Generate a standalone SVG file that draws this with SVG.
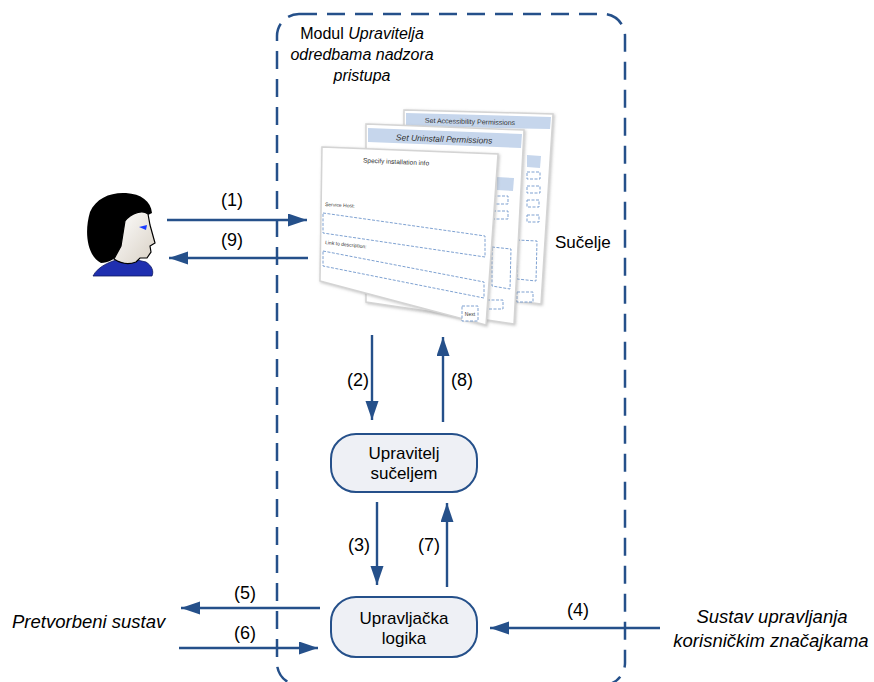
<svg xmlns="http://www.w3.org/2000/svg" width="874" height="682" viewBox="0 0 874 682">
  <defs>
    <style>
      .lbl { font-family: "Liberation Sans", Arial, sans-serif; font-size: 18px; fill: #000; text-anchor: middle; }
      .caption { font-family: "Liberation Sans", Arial, sans-serif; font-size: 17px; fill: #000; }
      .node-text { font-family: "Liberation Sans", Arial, sans-serif; font-size: 17px; fill: #000; text-anchor: middle; }
      .ext { font-family: "Liberation Sans", Arial, sans-serif; font-size: 18.5px; font-style: italic; fill: #000; }
      .title { font-family: "Liberation Sans", Arial, sans-serif; font-size: 16px; fill: #000; text-anchor: middle; }
      .node { fill: #eef0f5; stroke: #25508a; stroke-width: 2; }
      .conn { stroke: #25508a; stroke-width: 2.4; fill: none; marker-end: url(#head); }
      .win { fill: #ffffff; stroke: #d4d4d4; stroke-width: 1.5; filter: url(#glow); }
      .bar { fill: #c6d6ec; }
      .field { fill: #ffffff; stroke: #6f96cc; stroke-width: 0.9; stroke-dasharray: 3 1.5; }
      .tiny { font-family: "Liberation Sans", Arial, sans-serif; fill: #333; }
    </style>
    <marker id="head" markerUnits="userSpaceOnUse" markerWidth="20" markerHeight="14" refX="19" refY="6.5" orient="auto">
      <path d="M0,0 L19,6.5 L0,13 Z" fill="#25508a"/>
    </marker>
    <filter id="glow" x="-10%" y="-10%" width="120%" height="120%">
      <feDropShadow dx="1" dy="1" stdDeviation="1.6" flood-color="#9a9a9a" flood-opacity="0.6"/>
    </filter>
    <linearGradient id="skin" x1="0" y1="0" x2="1" y2="1">
      <stop offset="0" stop-color="#ffffff"/>
      <stop offset="1" stop-color="#d8d0c4"/>
    </linearGradient>
  </defs>

  <!-- module boundary -->
  <g id="module">
    <rect x="277" y="14" width="348" height="671" rx="22" fill="none" stroke="#25508a" stroke-width="2.5" stroke-dasharray="18 10"/>
    <text class="title" x="362" y="39">Modul <tspan font-style="italic">Upravitelja</tspan></text>
    <text class="title" x="362" y="60" font-style="italic">odredbama nadzora</text>
    <text class="title" x="362" y="81" font-style="italic">pristupa</text>
  </g>

  <!-- user -->
  <g id="user">
    <path d="M93,276 C98,266 113,259 128,258 L146,262 C152,266 154,271 152,276 Z" fill="#1f2fb0" stroke="#0d1660" stroke-width="0.8"/>
    <path d="M101,263 C87,256 84,232 90,212 C96,198 111,192 126,193 C141,194 151,201 152,213 L148,215 C140,211 130,214 125,223 L122,246 C120,256 111,263 101,263 Z" fill="#000"/>
    <path d="M125,221 C132,212 143,210 148,214 L150,225 L155,243 L150,246 L151,252 L147,258 L140,258 L136,262 C128,265 120,263 114,259 L121,246 Z" fill="url(#skin)" stroke="#000" stroke-width="1.2"/>
    <path d="M139,227 L147,225 L146,230 Z" fill="#1a3cff"/>
  </g>

  <!-- user interface screens -->
  <g id="screens">
    <!-- back window -->
    <polygon class="win" points="404,110 553,114 541,304 404,286"/>
    <polygon class="bar" points="406,113 551,117 550,129 406,126"/>
    <text class="tiny" x="470" y="124" font-size="7" text-anchor="middle" transform="rotate(1.5 470 124)">Set Accessibility Permissions</text>
    <polygon class="bar" points="527,155 541,156 540,168 527,167"/>
    <rect class="field" x="527" y="172" width="13" height="7"/>
    <rect class="field" x="527" y="186" width="13" height="7"/>
    <rect class="field" x="527" y="200" width="12" height="7"/>
    <rect class="field" x="527" y="215" width="12" height="7"/>
    <polygon class="field" points="517,240 537,241 536,281 517,279"/>
    <rect class="field" x="517" y="292" width="16" height="10"/>

    <!-- middle window -->
    <polygon class="win" points="366,124 524,130 514,324 366,302"/>
    <polygon class="bar" points="368,128 522,134 521,148 368,142"/>
    <text class="tiny" x="444" y="142" font-size="8.5" font-style="italic" text-anchor="middle" transform="rotate(2 444 142)">Set Uninstall Permissions</text>
    <polygon class="bar" points="497,177 514,178 513,191 497,190"/>
    <rect class="field" x="493" y="196" width="15" height="8"/>
    <rect class="field" x="493" y="211" width="15" height="8"/>
    <polygon class="field" points="492,247 511,249 510,289 492,286"/>
    <rect class="field" x="487" y="300" width="16" height="9"/>

    <!-- front window -->
    <polygon class="win" points="322,147 498,154 486,325 320,281"/>
    <text class="tiny" x="396" y="164" font-size="6.5" text-anchor="middle" transform="rotate(2.5 396 164)">Specify installation info</text>
    <text class="tiny" x="325" y="206" font-size="5" transform="rotate(3 325 206)">Service Host:</text>
    <polygon class="field" points="323,213 485,236 485,257 323,233"/>
    <text class="tiny" x="325" y="244" font-size="5" transform="rotate(6 325 244)">Link to description:</text>
    <polygon class="field" points="323,251 484,282 484,298 323,266"/>
    <rect class="field" x="462" y="306" width="16" height="15"/>
    <text class="tiny" x="470" y="316" font-size="5" text-anchor="middle">Next</text>

    <text class="caption" x="555" y="248">Sučelje</text>
  </g>

  <!-- nodes -->
  <g id="upravitelj-sucelja">
    <rect class="node" x="331" y="434" width="146" height="58" rx="25"/>
    <text class="node-text" x="404" y="459">Upravitelj</text>
    <text class="node-text" x="404" y="479">sučeljem</text>
  </g>
  <g id="upravljacka-logika">
    <rect class="node" x="331" y="597" width="146" height="60" rx="25"/>
    <text class="node-text" x="404" y="624">Upravljačka</text>
    <text class="node-text" x="404" y="644">logika</text>
  </g>

  <!-- external systems -->
  <g id="pretvorbeni-sustav">
    <text class="ext" x="12" y="628">Pretvorbeni sustav</text>
  </g>
  <g id="sustav-upravljanja">
    <text class="ext" x="772" y="623" text-anchor="middle">Sustav upravljanja</text>
    <text class="ext" x="771" y="647" text-anchor="middle">korisničkim značajkama</text>
  </g>

  <!-- connectors -->
  <g id="connectors">
    <line class="conn" x1="167" y1="220" x2="307" y2="220"/>
    <line class="conn" x1="308" y1="258" x2="169" y2="258"/>
    <line class="conn" x1="372" y1="335" x2="372" y2="420"/>
    <line class="conn" x1="443" y1="422" x2="443" y2="337"/>
    <line class="conn" x1="377" y1="502" x2="377" y2="585"/>
    <line class="conn" x1="447" y1="587" x2="447" y2="503"/>
    <line class="conn" x1="320" y1="608" x2="181" y2="608"/>
    <line class="conn" x1="179" y1="648" x2="318" y2="648"/>
    <line class="conn" x1="660" y1="628" x2="490" y2="628"/>

    <text class="lbl" x="232" y="206">(1)</text>
    <text class="lbl" x="232" y="246">(9)</text>
    <text class="lbl" x="358" y="386">(2)</text>
    <text class="lbl" x="462" y="386">(8)</text>
    <text class="lbl" x="359" y="551">(3)</text>
    <text class="lbl" x="429" y="551">(7)</text>
    <text class="lbl" x="245" y="599">(5)</text>
    <text class="lbl" x="245" y="639">(6)</text>
    <text class="lbl" x="578" y="616">(4)</text>
  </g>
</svg>
